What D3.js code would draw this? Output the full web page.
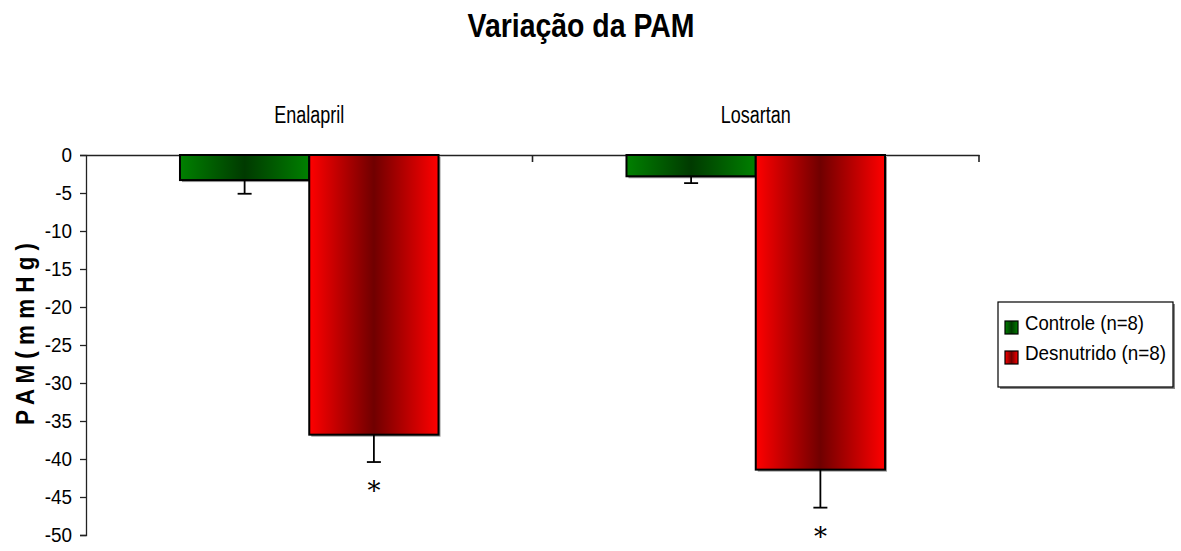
<!DOCTYPE html>
<html>
<head>
<meta charset="utf-8">
<script src="https://cdn.jsdelivr.net/npm/d3@7"></script>
<style>
  body { margin: 0; background: #fff; }
  svg { display: block; }
  text { font-family: "Liberation Sans", Arial, sans-serif; fill: #000; }
</style>
</head>
<body>
<svg id="chart" width="1181" height="551"></svg>
<script>
// data
const categories = ['Enalapril', 'Losartan'];
const series = ['Controle (n=8)', 'Desnutrido (n=8)'];
const controleMean = [-3.3, -2.8];
const controleErr = [1.8, 0.9];
const desnutridoMean = [-36.8, -41.4];
const desnutridoErr = [3.6, 5.0];
const significant = [false, true]; // per series: asterisk under bar
const yTicks = [0, -5, -10, -15, -20, -25, -30, -35, -40, -45, -50];

const svg = d3.select('#chart');

const plotLeft = 86, plotRight = 979, plotTop = 155, plotBottom = 535;

const y = d3.scaleLinear().domain([-50, 0]).range([plotBottom, plotTop]);
const x0 = d3.scaleBand().domain(categories).range([plotLeft, plotRight]);
const x1 = d3.scaleBand().domain(series).range([0, x0.bandwidth()]).paddingOuter(0.727);

const colors = {
    'Controle (n=8)': ['#008000', '#003a00'],
    'Desnutrido (n=8)': ['#ff0000', '#700000']
};

// no narrow font here, so squeeze the text to the reference widths
function squeeze(sel, w) {
    sel.attr('textLength', w).attr('lengthAdjust', 'spacingAndGlyphs');
}

// gradients, dark in the middle like the old excel fill
const defs = svg.append('defs');
series.forEach(function(s, i) {
    const g = defs.append('linearGradient')
        .attr('id', 'grad' + i)
        .attr('x1', '0%').attr('x2', '100%').attr('y1', '0%').attr('y2', '0%');
    g.append('stop').attr('offset', '0%').attr('stop-color', colors[s][0]);
    g.append('stop').attr('offset', '50%').attr('stop-color', colors[s][1]);
    g.append('stop').attr('offset', '100%').attr('stop-color', colors[s][0]);
});

// title
svg.append('text')
    .attr('x', 581).attr('y', 37)
    .attr('text-anchor', 'middle')
    .style('font-size', '34px').style('font-weight', 'bold')
    .text('Variação da PAM')
    .call(squeeze, 227);

// y axis title
svg.append('text')
    .attr('transform', 'translate(34,334) rotate(-90)')
    .attr('text-anchor', 'middle')
    .style('font-size', '25px').style('font-weight', 'bold')
    .text('P A M  ( m m H g )')
    .call(squeeze, 182);

// y axis
const yAxis = d3.axisLeft(y).tickValues(yTicks).tickSize(6).tickPadding(8)
    .tickFormat(function(d) { return String(d); });
const gy = svg.append('g').attr('transform', 'translate(' + plotLeft + ',0)').call(yAxis);
gy.select('.domain').attr('stroke', '#222').attr('stroke-width', 1.3);
gy.selectAll('.tick line').attr('stroke', '#222').attr('stroke-width', 1.3);
gy.selectAll('.tick text')
    .style('font-size', '21px')
    .style('font-family', '"Liberation Sans", Arial, sans-serif')
    .attr('fill', '#000')
    .attr('transform', 'scale(0.9,1)')
    .attr('x', -14 / 0.9);

// top category axis at 0
const xAxis = d3.axisBottom(x0).tickSize(0).tickFormat('');
const gx = svg.append('g').attr('transform', 'translate(0,' + y(0) + ')').call(xAxis);
gx.select('.domain').attr('stroke', '#222').attr('stroke-width', 1.3);
gx.selectAll('.tick').remove();
gx.selectAll('.sep')
    .data(categories.map(function(c) { return x0(c) + x0.bandwidth(); }))
    .enter().append('line')
    .attr('class', 'sep')
    .attr('x1', function(d) { return d; }).attr('x2', function(d) { return d; })
    .attr('y1', 0).attr('y2', 7)
    .attr('stroke', '#222').attr('stroke-width', 1.6);

// category labels above the plot
svg.selectAll('.cat')
    .data(categories)
    .enter().append('text')
    .attr('class', 'cat')
    .attr('x', function(d) { return x0(d) + x0.bandwidth() / 2; })
    .attr('y', 123)
    .attr('text-anchor', 'middle')
    .style('font-size', '23px')
    .text(function(d) { return d; })
    .call(squeeze, 70);

const rows = [];
categories.forEach(function(c, i) {
    rows.push({cat: c, s: series[0], si: 0, mean: controleMean[i], err: controleErr[i], sig: significant[0]});
    rows.push({cat: c, s: series[1], si: 1, mean: desnutridoMean[i], err: desnutridoErr[i], sig: significant[1]});
});

const bars = svg.append('g');

// soft shadow under bars
bars.selectAll('.shadow')
    .data(rows)
    .enter().append('rect')
    .attr('x', function(d) { return x0(d.cat) + x1(d.s) + 2; })
    .attr('y', y(0) + 2)
    .attr('width', x1.bandwidth())
    .attr('height', function(d) { return y(d.mean) - y(0); })
    .attr('fill', '#999');

bars.selectAll('.bar')
    .data(rows)
    .enter().append('rect')
    .attr('class', 'bar')
    .attr('x', function(d) { return x0(d.cat) + x1(d.s); })
    .attr('y', y(0))
    .attr('width', x1.bandwidth())
    .attr('height', function(d) { return y(d.mean) - y(0); })
    .attr('fill', function(d) { return 'url(#grad' + d.si + ')'; })
    .attr('stroke', '#000')
    .attr('stroke-width', 2);

// error bars (downward only)
const eb = svg.append('g').attr('stroke', '#000').attr('stroke-width', 1.8);
rows.forEach(function(d) {
    const cx = x0(d.cat) + x1(d.s) + x1.bandwidth() / 2;
    eb.append('line')
        .attr('x1', cx).attr('x2', cx)
        .attr('y1', y(d.mean)).attr('y2', y(d.mean - d.err));
    eb.append('line')
        .attr('x1', cx - 7).attr('x2', cx + 7)
        .attr('y1', y(d.mean - d.err)).attr('y2', y(d.mean - d.err));
});

// asterisks
svg.selectAll('.star')
    .data(rows.filter(function(d) { return d.sig; }))
    .enter().append('text')
    .attr('class', 'star')
    .attr('x', function(d) { return x0(d.cat) + x1(d.s) + x1.bandwidth() / 2; })
    .attr('y', function(d) { return y(d.mean - d.err) + 38; })
    .attr('text-anchor', 'middle')
    .style('font-family', '"DejaVu Serif", serif')
    .style('font-size', '26px')
    .text('*');

// legend
const lg = svg.append('g').attr('transform', 'translate(998,302)');
lg.append('rect')
    .attr('x', 2).attr('y', 2).attr('width', 175).attr('height', 85)
    .attr('fill', '#888');
lg.append('rect')
    .attr('width', 175).attr('height', 85)
    .attr('fill', '#fff').attr('stroke', '#000').attr('stroke-width', 1.2);
const legendWidths = [119, 141];
const items = lg.selectAll('.item')
    .data(series)
    .enter().append('g')
    .attr('transform', function(d, i) { return 'translate(7,' + (19 + i * 30) + ')'; });
items.append('rect')
    .attr('width', 13).attr('height', 13)
    .attr('fill', function(d, i) { return 'url(#grad' + i + ')'; })
    .attr('stroke', '#000').attr('stroke-width', 1.2);
items.append('text')
    .attr('x', 20).attr('y', 9)
    .style('font-size', '21px')
    .text(function(d) { return d; })
    .each(function(d, i) { d3.select(this).call(squeeze, legendWidths[i]); });
</script>
</body>
</html>
